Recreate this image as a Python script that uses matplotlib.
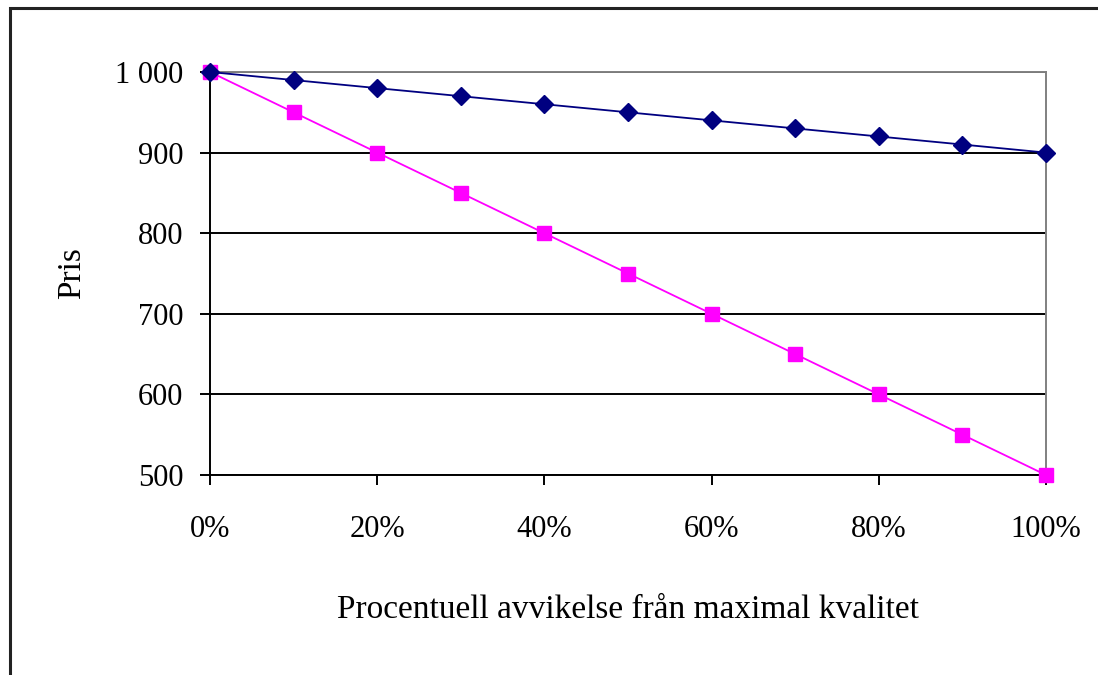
import matplotlib.pyplot as plt
import matplotlib.patches as mpatches
from matplotlib.ticker import FuncFormatter, MultipleLocator

# Price vs. deviation from maximum quality
avvikelse = [0, 10, 20, 30, 40, 50, 60, 70, 80, 90, 100]
pris_a = [1000, 990, 980, 970, 960, 950, 940, 930, 920, 910, 900]
pris_b = [1000, 950, 900, 850, 800, 750, 700, 650, 600, 550, 500]

plt.rcParams['font.family'] = ['Liberation Serif', 'DejaVu Serif']

fig = plt.figure(figsize=(10.98, 6.75), dpi=100)
ax = fig.add_axes([210 / 1098, 200 / 675, 836 / 1098, 403 / 675])

ax.plot(avvikelse, pris_a, color='#000080', marker='D', markersize=9,
        linewidth=1.3, clip_on=False, zorder=4)
ax.plot(avvikelse, pris_b, color='#ff00ff', marker='s', markersize=10,
        linewidth=1.3, clip_on=False, zorder=3)

ax.set_xlim(0, 100)
ax.set_ylim(500, 1000)
ax.xaxis.set_major_locator(MultipleLocator(20))
ax.yaxis.set_major_locator(MultipleLocator(100))
ax.xaxis.set_major_formatter(FuncFormatter(lambda v, p: '%d%%' % v))
ax.yaxis.set_major_formatter(FuncFormatter(
    lambda v, p: ('%d' % v) if v < 1000 else '1 000'))

ax.grid(axis='y', color='black', linewidth=1.4)
ax.set_axisbelow(True)

for side in ['top', 'right']:
    ax.spines[side].set_color('#808080')
    ax.spines[side].set_linewidth(1.4)
for side in ['left', 'bottom']:
    ax.spines[side].set_color('black')
    ax.spines[side].set_linewidth(1.4)

ax.tick_params(axis='both', direction='out', length=7, width=1.4,
               labelsize=22, color='black')
ax.tick_params(axis='y', pad=12)
ax.tick_params(axis='x', pad=22)

ax.set_xlabel('Procentuell avvikelse från maximal kvalitet', fontsize=24)
ax.xaxis.set_label_coords(0.5, -0.335)
ax.xaxis.label.set_va('center')
ax.set_ylabel('Pris', fontsize=24)
ax.yaxis.set_label_coords(-0.165, 0.5)
ax.yaxis.label.set_va('center')

# outer chart frame
frame = mpatches.Rectangle((10 / 1098, -0.1), 1.2, 1.1 - 8 / 675,
                           transform=fig.transFigure, fill=False,
                           edgecolor='#222222', linewidth=2.2)
fig.patches.append(frame)

fig.savefig('out.png', dpi=100)
